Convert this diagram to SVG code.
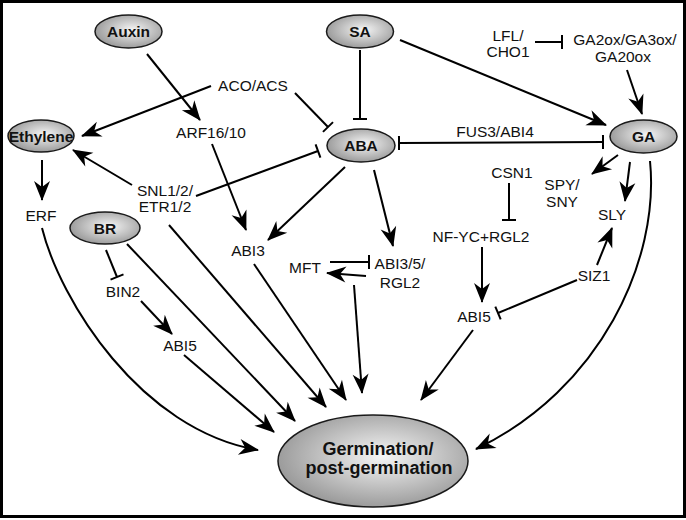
<svg xmlns="http://www.w3.org/2000/svg" width="686" height="520" viewBox="0 0 686 520">
<style>
.n{stroke:#1a1a1a;stroke-width:1.5;fill:url(#g)}
.nt{font-family:"Liberation Sans",Arial,sans-serif;font-weight:bold;font-size:15.5px;text-anchor:middle;fill:#111}
.t{font-family:"Liberation Sans",Arial,sans-serif;font-size:15.5px;text-anchor:middle;fill:#111}
.c path{fill:none;stroke:#000;stroke-width:2}
.a{marker-end:url(#arr)}
.b{marker-end:url(#bar)}
</style>
<defs>
<radialGradient id="g" cx="55%" cy="45%" r="55%">
<stop offset="0" stop-color="#f6f6f6"/>
<stop offset="1" stop-color="#9c9c9c"/>
</radialGradient>
<marker id="arr" markerUnits="userSpaceOnUse" orient="auto" overflow="visible" markerWidth="1" markerHeight="1" refX="0" refY="0">
<path d="M1,0 L-19,-8 L-13,0 L-19,8 Z" fill="#000" stroke="none"/>
</marker>
<marker id="bar" markerUnits="userSpaceOnUse" orient="auto" overflow="visible" markerWidth="1" markerHeight="1" refX="0" refY="0">
<path d="M0,-7 L0,7" stroke="#000" stroke-width="2" fill="none"/>
</marker>
</defs>
<rect x="1.5" y="1.5" width="683" height="515" fill="#fff" stroke="#000" stroke-width="3"/>

<g class="c" id="connectors">
<path class="a" d="M147,54 L200,120"/>
<path class="a" d="M211,86 L82,136"/>
<path class="b" d="M295,93 L328,127"/>
<path class="b" d="M360,50 L360,119"/>
<path class="a" d="M400,40 L606,125"/>
<path class="b" d="M535,42 L562,42"/>
<path class="a" d="M627,70 L642,114"/>
<path d="M399,143 L603,142" marker-start="url(#bar)" marker-end="url(#bar)"/>
<path class="a" d="M345,167 L268,240"/>
<path class="a" d="M374,170 L393,246"/>
<path class="a" d="M132,185 L73,150"/>
<path class="b" d="M196,196 L318,151"/>
<path class="a" d="M212,144 L246,230"/>
<path class="a" d="M42,160 L42,200"/>
<path class="a" d="M42,228 C60,300 140,430 258,450"/>
<path class="b" d="M106,250 L117,277"/>
<path class="a" d="M141,301 L172,334"/>
<path class="a" d="M184,355 L274,432"/>
<path class="a" d="M127,244 L295,421"/>
<path class="a" d="M169,225 L326,407"/>
<path class="a" d="M254,264 L346,400"/>
<path class="a" d="M354,285 L362,393"/>
<path class="b" d="M330,262 L369,262"/>
<path class="a" d="M366,276 L327,273"/>
<path class="b" d="M509,183 L509,220"/>
<path class="a" d="M482,247 L482,302"/>
<path class="b" d="M577,280 L498,313"/>
<path class="a" d="M597,265 L612,228"/>
<path class="a" d="M618,155 L592,174"/>
<path class="a" d="M630,162 L625,201"/>
<path class="a" d="M473,330 L421,400"/>
<path class="a" d="M650,161 C660,260 600,390 476,449"/>
</g>

<g id="auxin"><ellipse class="n" cx="128.5" cy="31.5" rx="33.5" ry="16.5"/><text class="nt" x="128.5" y="37">Auxin</text></g>
<g id="sa"><ellipse class="n" cx="360" cy="31.5" rx="33.5" ry="16.5"/><text class="nt" x="360" y="37">SA</text></g>
<g id="ethylene"><ellipse class="n" cx="41" cy="136" rx="33" ry="16"/><text class="nt" x="41" y="141.5">Ethylene</text></g>
<g id="aba"><ellipse class="n" cx="361" cy="145.5" rx="34" ry="16.5"/><text class="nt" x="361" y="151">ABA</text></g>
<g id="ga"><ellipse class="n" cx="643.5" cy="136.5" rx="33.5" ry="16.5"/><text class="nt" x="643.5" y="142">GA</text></g>
<g id="br"><ellipse class="n" cx="105" cy="228" rx="35" ry="16"/><text class="nt" x="105" y="233.5">BR</text></g>
<g id="germination"><ellipse class="n" cx="373" cy="461" rx="95" ry="46"/><text class="nt" style="font-size:18px" x="378" y="455">Germination/</text><text class="nt" style="font-size:18px" x="379" y="474">post-germination</text></g>

<g id="aco"><text class="t" x="253" y="91">ACO/ACS</text></g>
<g id="arf"><text class="t" x="211" y="138">ARF16/10</text></g>
<g id="snl"><text class="t" x="165" y="196">SNL1/2/</text><text class="t" x="165" y="212">ETR1/2</text></g>
<g id="erf"><text class="t" x="41" y="221">ERF</text></g>
<g id="abi3"><text class="t" x="248" y="256">ABI3</text></g>
<g id="lfl"><text class="t" x="508" y="41">LFL/</text><text class="t" x="508" y="57">CHO1</text></g>
<g id="ga2ox"><text class="t" x="625" y="45">GA2ox/GA3ox/</text><text class="t" x="623" y="62">GA20ox</text></g>
<g id="fus3"><text class="t" x="495" y="137">FUS3/ABI4</text></g>
<g id="csn1"><text class="t" x="512" y="178">CSN1</text></g>
<g id="spy"><text class="t" x="562" y="190">SPY/</text><text class="t" x="562" y="207">SNY</text></g>
<g id="sly"><text class="t" x="612" y="220">SLY</text></g>
<g id="nfyc"><text class="t" x="481" y="242">NF-YC+RGL2</text></g>
<g id="siz1"><text class="t" x="594" y="281">SIZ1</text></g>
<g id="abi5r"><text class="t" x="474" y="322">ABI5</text></g>
<g id="abi35"><text class="t" x="400" y="269">ABI3/5/</text><text class="t" x="400" y="288">RGL2</text></g>
<g id="mft"><text class="t" x="305" y="273">MFT</text></g>
<g id="bin2"><text class="t" x="123" y="297">BIN2</text></g>
<g id="abi5l"><text class="t" x="180" y="351">ABI5</text></g>
</svg>
